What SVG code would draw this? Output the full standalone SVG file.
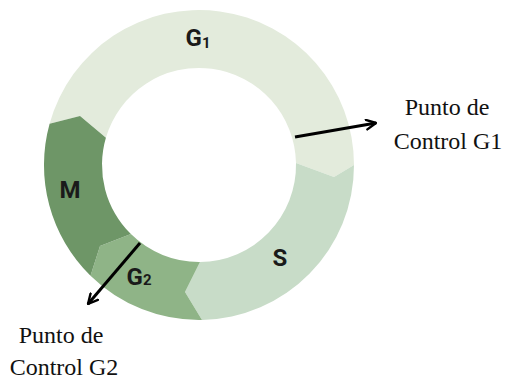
<svg xmlns="http://www.w3.org/2000/svg" width="508" height="383" viewBox="0 0 508 383">
<style>
.lbl{font-family:Roboto,"Liberation Sans",sans-serif;font-weight:bold;font-size:24px;fill:#1a1a1a;text-anchor:middle}
.sub{font-size:15px}
.cap{font-family:"Liberation Serif","Times New Roman","DejaVu Serif",serif;font-size:24px;fill:#111;text-anchor:middle}
.arr{stroke:#000;stroke-width:3;fill:none;marker-end:url(#ah)}
</style>
<defs>
<marker id="ah" viewBox="0 0 10 10" refX="9" refY="5" markerWidth="4" markerHeight="4" orient="auto" markerUnits="strokeWidth">
<path d="M1,1 L9,5 L1,9" fill="none" stroke="#000" stroke-width="2" stroke-linecap="round" stroke-linejoin="round"/>
</marker>
</defs>
<rect width="508" height="383" fill="#fff"/>
<g id="G1">
<path d="M49.6,123.7 A155,155 0 0 1 354,165 L334,177 L296,163 A97,97 0 0 0 105.9,137.8 L80,116 Z" fill="#e3ebdc"/>
<text class="lbl" x="198" y="46">G<tspan class="sub" dy="2">1</tspan></text>
</g>
<g id="S">
<path d="M354,165 A155,155 0 0 1 202,320 L185,292 L200,262 A97,97 0 0 0 296,163 L334,177 Z" fill="#c8dcc8"/>
<text class="lbl" x="280" y="266">S</text>
</g>
<g id="G2">
<path d="M202,320 A155,155 0 0 1 90.5,275.8 L100,246 L130.9,234.1 A97,97 0 0 0 200,262 L185,292 Z" fill="#8fb487"/>
<text class="lbl" x="139" y="285">G<tspan class="sub">2</tspan></text>
</g>
<g id="M">
<path d="M90.5,275.8 A155,155 0 0 1 49.6,123.7 L80,116 L105.9,137.8 A97,97 0 0 0 130.9,234.1 L100,246 Z" fill="#6e9667"/>
<text class="lbl" x="70" y="198">M</text>
</g>
<g id="PG1">
<text class="cap" x="447" y="115">Punto de</text>
<text class="cap" x="448" y="149">Control G1</text>
</g>
<g id="PG2">
<text class="cap" x="61" y="343">Punto de</text>
<text class="cap" x="64" y="375">Control G2</text>
</g>
<g id="connectors">
<line class="arr" x1="295" y1="137" x2="376" y2="123"/>
<line class="arr" x1="140" y1="243" x2="88" y2="304"/>
</g>
</svg>
